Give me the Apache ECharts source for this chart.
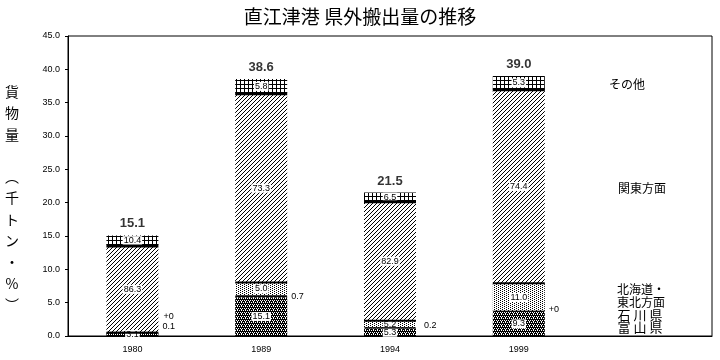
<!DOCTYPE html>
<html><head><meta charset="utf-8">
<script src="https://cdn.jsdelivr.net/npm/echarts@6/dist/echarts.min.js"></script>
<style>html,body{margin:0;padding:0;background:#fff}#c{width:720px;height:360px}</style>
</head><body><div id="c"></div>
<script>
const years = ['1980', '1989', '1994', '1999'];
const totals = [15.1, 38.6, 21.5, 39.0];
const toyamaPct = [3.1, 15.1, 5.3, 9.3];
const ishikawaPct = [0.1, 0.7, 0.2, 0];
const hokkaidoPct = [0, 5.0, 5.2, 11.0];
const kantoPct = [86.3, 73.3, 82.9, 74.4];
const otherPct = [10.4, 5.8, 6.5, 5.3];
const ishikawaLabels = ['0.1', '0.7', '0.2', '+0'];
const hokkaidoLabels = ['+0', '5.0', '5.2', '11.0'];
const seriesNames = ['富山県', '石川県', '北海道・東北方面', '関東方面', 'その他'];

const categories = years.concat(['']);
const FONT = '"Liberation Sans", Arial, sans-serif';
const JP = '"Noto Sans CJK JP", sans-serif';

function pat(w, h, draw) {
  const c = document.createElement('canvas');
  c.width = w; c.height = h;
  const g = c.getContext('2d');
  g.fillStyle = '#fff'; g.fillRect(0, 0, w, h);
  g.fillStyle = '#000';
  draw(g);
  return { image: c, repeat: 'repeat' };
}
const darkPat = pat(4, 4, g => {
  g.fillRect(0, 0, 4, 4);
  g.fillStyle = '#fff';
  [[0,0],[2,0],[1,2],[3,2],[1,1]].forEach(p => g.fillRect(p[0], p[1], 1, 1));
});
const dotPat = pat(4, 2, g => { g.fillRect(0, 0, 1, 1); g.fillRect(2, 1, 1, 1); });
const hatchPat = pat(4, 4, g => { for (let x = 0; x < 4; x++) g.fillRect(x, 3 - x, 1, 1); });
const gridPat = pat(4, 4, g => { g.fillRect(0, 0, 4, 1); g.fillRect(0, 0, 1, 4); });

const seg = pct => pct.map((p, i) => +(totals[i] * p / 100).toFixed(4));
const toyama = seg(toyamaPct), ishikawa = seg(ishikawaPct), hokkaido = seg(hokkaidoPct),
      kanto = seg(kantoPct), other = seg(otherPct);

const inLabel = (pct) => ({
  show: true, position: 'inside', color: '#000', fontSize: 9, fontFamily: FONT,
  backgroundColor: '#fff', padding: [0, 1, 0, 1],
  formatter: p => pct[p.dataIndex].toFixed(1)
});

const BW = 52;
const ishOffsets = [[0, -6], [0, 0], [4, -2], [0, -2]];

const chart = echarts.init(document.getElementById('c'), null, { renderer: 'canvas' });
chart.setOption({
  animation: false,
  backgroundColor: '#fff',
  title: { text: '直江津港 県外搬出量の推移', left: 'center', top: 2,
    textStyle: { fontSize: 19, fontWeight: 'normal', color: '#000', fontFamily: JP } },
  grid: { left: 68, right: 8, top: 36, bottom: 24, show: true, borderColor: '#000', borderWidth: 1 },
  xAxis: { type: 'category', data: categories,
    axisLine: { lineStyle: { color: '#000', width: 1 } }, axisTick: { show: false },
    axisLabel: { color: '#000', fontSize: 9, fontFamily: FONT, margin: 9 } },
  yAxis: { type: 'value', min: 0, max: 45, interval: 5,
    axisLine: { show: true, lineStyle: { color: '#000', width: 1 } },
    axisTick: { show: true, length: 3, lineStyle: { color: '#000' } },
    splitLine: { show: false },
    axisLabel: { color: '#000', fontSize: 9, fontFamily: FONT, margin: 8, formatter: v => v.toFixed(1) } },
  series: [
    { name: seriesNames[0], type: 'bar', stack: 'a', barWidth: BW, data: toyama,
      itemStyle: { color: darkPat }, label: inLabel(toyamaPct) },
    { name: seriesNames[1], type: 'bar', stack: 'a', barWidth: BW, z: 4, barMinHeight: 1,
      data: ishikawa.map((v, i) => ({ value: v, label: { offset: ishOffsets[i] } })),
      itemStyle: { color: '#000', borderColor: '#000', borderWidth: 1 },
      label: { show: true, position: 'right', distance: 4, color: '#000', fontSize: 9, fontFamily: FONT,
        formatter: p => ishikawaLabels[p.dataIndex] } },
    { name: seriesNames[2], type: 'bar', stack: 'a', barWidth: BW,
      data: hokkaido.map((v, i) => i === 0 ? { value: v, label: { position: 'right', distance: 4, offset: [0, -16], backgroundColor: 'transparent' } } : v),
      itemStyle: { color: dotPat },
      label: Object.assign(inLabel(hokkaidoPct), { formatter: p => hokkaidoLabels[p.dataIndex] }) },
    { name: seriesNames[3], type: 'bar', stack: 'a', barWidth: BW, data: kanto,
      itemStyle: { color: hatchPat }, label: inLabel(kantoPct) },
    { name: seriesNames[4], type: 'bar', stack: 'a', barWidth: BW, data: other,
      itemStyle: { color: gridPat }, label: inLabel(otherPct) },
    { type: 'custom', z: 5, silent: true,
      data: years.map((y, i) => [i, toyama[i] + ishikawa[i] + hokkaido[i], toyama[i] + ishikawa[i] + hokkaido[i] + kanto[i]]),
      renderItem: (params, api) => {
        const a = api.coord([api.value(0), api.value(1)]);
        const b = api.coord([api.value(0), api.value(2)]);
        return { type: 'group', children: [
          { type: 'rect', shape: { x: a[0] - BW / 2, y: a[1] - 1, width: BW, height: 2 }, style: { fill: '#000' } },
          { type: 'rect', shape: { x: b[0] - BW / 2, y: b[1] - 1.5, width: BW, height: 3 }, style: { fill: '#000' } }
        ] };
      } },
    { type: 'scatter', symbolSize: 0, z: 6, data: totals,
      label: { show: true, position: 'top', distance: 5, color: '#000', fontSize: 13, fontWeight: 'bold', fontFamily: FONT,
        formatter: p => totals[p.dataIndex].toFixed(1) } }
  ],
  graphic: [
    { type: 'text', left: 5, top: 81, style: { text: '貨\n物\n量\n\n︵\n千\nト\nン\n・\n%\n︶', fontSize: 14, lineHeight: 21.3,
      fill: '#000', fontFamily: JP, textAlign: 'center' } },
    { type: 'text', x: 627, y: 84, style: { text: 'その他', fontSize: 12, fill: '#000', fontFamily: JP, textAlign: 'center', textVerticalAlign: 'middle' } },
    { type: 'text', x: 642, y: 188, style: { text: '関東方面', fontSize: 12, fill: '#000', fontFamily: JP, textAlign: 'center', textVerticalAlign: 'middle' } },
    { type: 'text', x: 641, y: 289, style: { text: '北海道・', fontSize: 12, fill: '#000', fontFamily: JP, textAlign: 'center', textVerticalAlign: 'middle' } },
    { type: 'text', x: 641, y: 302, style: { text: '東北方面', fontSize: 12, fill: '#000', fontFamily: JP, textAlign: 'center', textVerticalAlign: 'middle' } },
    { type: 'text', x: 640, y: 315, style: { text: '石 川 県', fontSize: 13, fill: '#000', fontFamily: JP, textAlign: 'center', textVerticalAlign: 'middle' } },
    { type: 'text', x: 640, y: 327, style: { text: '富 山 県', fontSize: 13, fill: '#000', fontFamily: JP, textAlign: 'center', textVerticalAlign: 'middle' } }
  ]
});
</script></body></html>
